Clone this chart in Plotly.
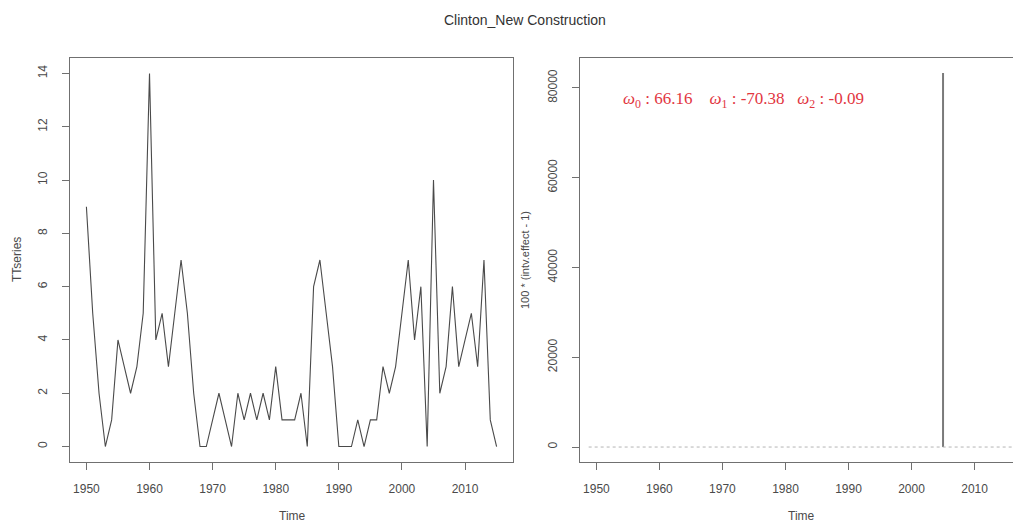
import plotly.graph_objects as go

# Annual series, 1950-2015
years = list(range(1950, 2016))
tt_series = [
    9, 5, 2, 0, 1, 4, 3, 2, 3, 5,      # 1950s
    14, 4, 5, 3, 5, 7, 5, 2, 0, 0,     # 1960s
    1, 2, 1, 0, 2, 1, 2, 1, 2, 1,      # 1970s
    3, 1, 1, 1, 2, 0, 6, 7, 5, 3,      # 1980s
    0, 0, 0, 1, 0, 1, 1, 3, 2, 3,      # 1990s
    5, 7, 4, 6, 0, 10, 2, 3, 6, 3,     # 2000s
    4, 5, 3, 7, 1, 0,                  # 2010-2015
]

# Intervention effect, 100 * (intv.effect - 1); pulse in 2005
effect_years = years
effect_values = [83300 if y == 2005 else 0 for y in years]

# Estimated weights shown on the right panel
omega = {"0": "66.16", "1": "-70.38", "2": "-0.09"}

x_ticks = [1950, 1960, 1970, 1980, 1990, 2000, 2010]
left_y_ticks = [0, 2, 4, 6, 8, 10, 12, 14]
right_y_ticks = [0, 20000, 40000, 60000, 80000]

W, H = 1013, 524
axis_col = "#707070"
text_col = "#4a4a4a"
font_family = "Arial, Liberation Sans, sans-serif"


def px_x(p):
    return p / W


def px_y(p):
    return 1 - p / H


# vertical spikes (type = "h") built from the effect series
spike_x, spike_y = [], []
for yr, v in zip(effect_years, effect_values):
    if v != 0:
        spike_x += [yr, yr, None]
        spike_y += [0, v, None]

fig = go.Figure()

fig.add_trace(go.Scatter(
    x=years, y=tt_series, mode="lines",
    line=dict(color="#4a4a4a", width=1.1),
    xaxis="x", yaxis="y", showlegend=False, hoverinfo="skip",
))

fig.add_trace(go.Scatter(
    x=spike_x, y=spike_y, mode="lines",
    line=dict(color="#7a7a7a", width=2),
    xaxis="x2", yaxis="y2", showlegend=False, hoverinfo="skip",
))

common_axis = dict(
    showgrid=False, zeroline=False, showline=True, linecolor=axis_col,
    linewidth=1, ticks="outside", ticklen=7, tickcolor=axis_col,
    tickwidth=1, tickfont=dict(family=font_family, size=12, color=text_col),
)

top = px_y(58)
bottom = px_y(462)

fig.update_layout(
    width=W, height=H,
    margin=dict(l=0, r=0, t=0, b=0),
    paper_bgcolor="white", plot_bgcolor="white",
    xaxis=dict(domain=[px_x(70), px_x(513)], range=[1947.4, 2017.6],
               tickvals=x_ticks, mirror=True, anchor="y",
               ticklabelstandoff=9, **common_axis),
    yaxis=dict(domain=[bottom, top], range=[-0.58, 14.58],
               tickvals=left_y_ticks, mirror=True, anchor="x",
               tickangle=-90, ticklabelstandoff=10, **common_axis),
    xaxis2=dict(domain=[px_x(580), 1.0], range=[1947.4, 2016.1],
                tickvals=x_ticks, mirror=True, anchor="y2",
                ticklabelstandoff=9, **common_axis),
    yaxis2=dict(domain=[bottom, top], range=[-3333, 86667],
                tickvals=right_y_ticks, tickformat="d", mirror=False,
                anchor="x2", tickangle=-90, ticklabelstandoff=10,
                **common_axis),
)

# dotted reference line at zero on the effect panel
fig.add_shape(type="line", xref="x2 domain", yref="y2",
              x0=0.02, x1=1.0, y0=0, y1=0,
              line=dict(color="#b5b5b5", width=1, dash="dot"))

annotations = [
    dict(text="Clinton_New Construction", x=px_x(525), y=px_y(20),
         font=dict(family=font_family, size=14, color="#333333")),
    dict(text="Time", x=px_x(292), y=px_y(516),
         font=dict(family=font_family, size=12, color=text_col)),
    dict(text="Time", x=px_x(801), y=px_y(516),
         font=dict(family=font_family, size=12, color=text_col)),
    dict(text="TTseries", x=px_x(17), y=px_y(260), textangle=-90,
         font=dict(family=font_family, size=12, color=text_col)),
    dict(text="100 * (intv.effect - 1)", x=px_x(525), y=px_y(260),
         textangle=-90,
         font=dict(family=font_family, size=11, color=text_col)),
    dict(text="<i>ω</i><sub>0</sub> : {}    <i>ω</i><sub>1</sub> : {}   "
              "<i>ω</i><sub>2</sub> : {}".format(omega["0"], omega["1"],
                                                omega["2"]),
         x=px_x(743), y=px_y(100),
         font=dict(family="Liberation Serif, DejaVu Serif, serif",
                   size=17, color="#e2363f")),
]
for a in annotations:
    fig.add_annotation(xref="paper", yref="paper", showarrow=False,
                       xanchor="center", yanchor="middle", **a)

fig.write_html("out.html")
